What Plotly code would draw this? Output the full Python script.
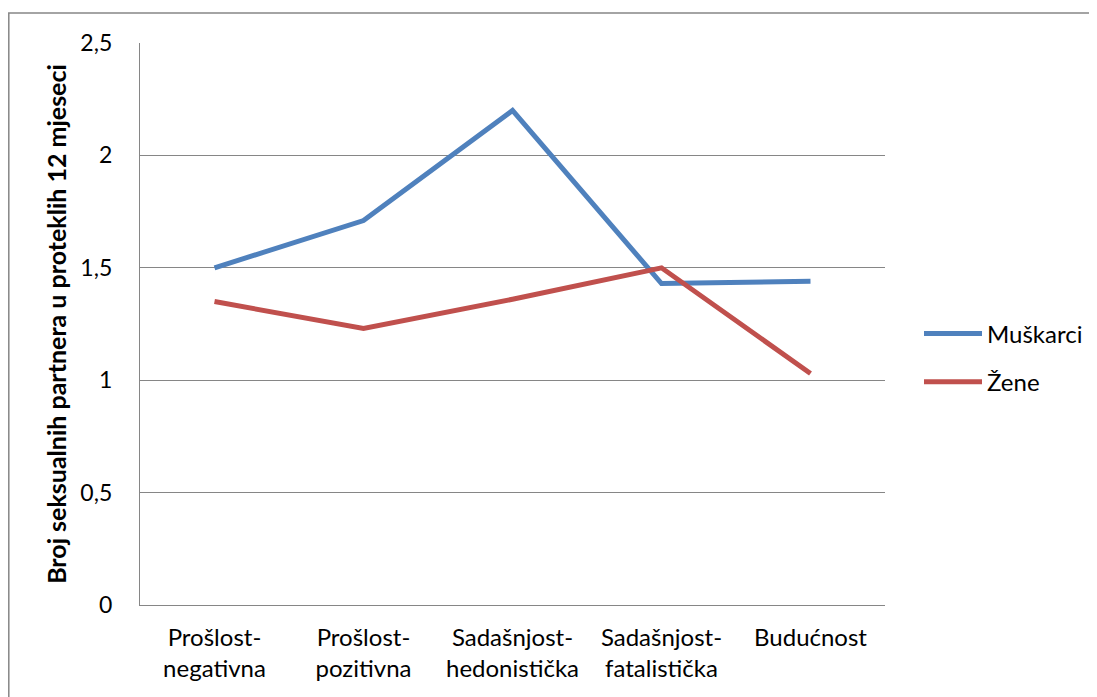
import plotly.graph_objects as go

categories = ["Prošlost-<br>negativna", "Prošlost-<br>pozitivna", "Sadašnjost-<br>hedonistička",
              "Sadašnjost-<br>fatalistička", "Budućnost"]
muskarci = [1.50, 1.71, 2.20, 1.43, 1.44]
zene = [1.35, 1.23, 1.36, 1.50, 1.03]
y_ticks = [0, 0.5, 1, 1.5, 2, 2.5]
y_tick_labels = ["0", "0,5", "1", "1,5", "2", "2,5"]

FONT = "Lato, Calibri, sans-serif"
OFF = 8  # default page body margin
W, H = 1097, 697
L, T = 140 - OFF, 43 - OFF
pw, ph = 745, 562
R, B = W - L - pw, H - T - ph

def py(y_px):
    return (605 - y_px) / ph

fig = go.Figure()
fig.add_trace(go.Scatter(x=list(range(len(categories))), y=muskarci, mode="lines", name="Muškarci",
                         legendgroup="m", line=dict(color="#4F81BD", width=5)))
fig.add_trace(go.Scatter(x=list(range(len(categories))), y=zene, mode="lines", name="Žene",
                         legendgroup="z", line=dict(color="#C0504D", width=5)))

fig.update_layout(
    width=W, height=H,
    margin=dict(l=L, r=R, t=T, b=B),
    paper_bgcolor="white", plot_bgcolor="white",
    font=dict(family=FONT, size=22, color="black"),
    legend=dict(x=(919 - 140) / pw, xanchor="left", y=py(358), yanchor="middle",
                font=dict(family=FONT, size=24), itemwidth=58, tracegroupgap=14,
                bgcolor="rgba(0,0,0,0)"),
    xaxis=dict(range=[-0.5, 4.5], tickmode="array", tickvals=list(range(len(categories))),
               ticktext=categories, showgrid=False, zeroline=False,
               showline=True, linecolor="#868686", linewidth=1.3, ticks="",
               ticklabelstandoff=11,
               tickfont=dict(family=FONT, size=24), fixedrange=True),
    yaxis=dict(range=[0, 2.5], tickmode="array", tickvals=y_ticks, ticktext=y_tick_labels,
               showgrid=True, gridcolor="#868686", gridwidth=1.3, zeroline=False,
               showline=True, linecolor="#868686", linewidth=1.3, ticks="",
               ticklabelstandoff=22,
               tickfont=dict(family=FONT, size=23),
               title=dict(text="<b>Broj seksualnih partnera u proteklih 12 mjeseci</b>",
                          font=dict(family=FONT, size=25), standoff=6)),
    shapes=[dict(type="rect", xref="paper", yref="paper",
                 x0=(8.8 - 140) / pw, x1=(W + 30 - 140) / pw,
                 y0=py(H + 30), y1=py(13),
                 line=dict(color="#868686", width=1.5), fillcolor="rgba(0,0,0,0)", layer="below")],
    showlegend=True,
)

fig.write_html("out.html")
